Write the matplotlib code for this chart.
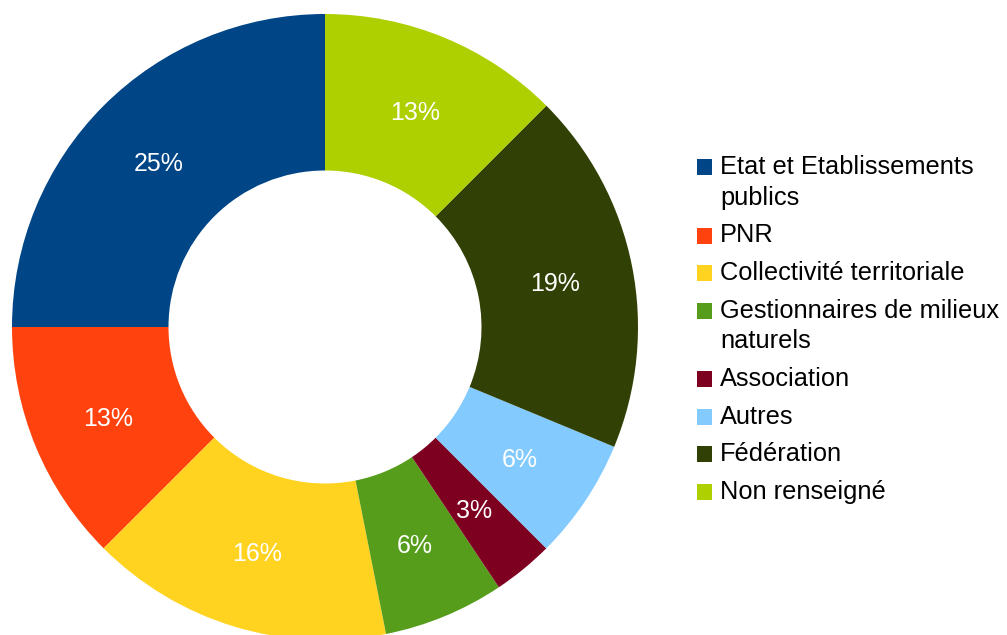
import matplotlib.pyplot as plt
from matplotlib.patches import Rectangle

# --- Données ---
categories = ['Etat et Etablissements\npublics', 'PNR', 'Collectivité territoriale',
              'Gestionnaires de milieux\nnaturels', 'Association', 'Autres',
              'Fédération', 'Non renseigné']
effectifs = [8, 4, 5, 2, 1, 2, 6, 4]
couleurs = ['#004586', '#ff420e', '#ffd320', '#579d1c',
            '#7e0021', '#83caff', '#314004', '#aecf00']

plt.rcParams['font.family'] = ['Liberation Sans', 'DejaVu Sans']

W, H = 1007, 635
fig = plt.figure(figsize=(W / 100, H / 100), dpi=100)

# anneau : centre (325, 327) px, rayon 313 px
cx, cy, r = 325, 327, 313
ax = fig.add_axes([(cx - r) / W, (H - cy - r) / H, 2 * r / W, 2 * r / H])

total = sum(effectifs)


def etiquette(p):
    # arrondi "à la tableur" (0.5 vers le haut)
    return f"{int(p + 0.5)}%"


wedges, _, autotexts = ax.pie(
    effectifs, colors=couleurs, startangle=90, counterclock=True,
    autopct=etiquette, pctdistance=0.75,
    wedgeprops=dict(width=0.5, linewidth=0),
    textprops=dict(color='white', fontsize=18),
)
for t in autotexts:
    t.set_va('center_baseline')
ax.set_xlim(-1, 1)
ax.set_ylim(-1, 1)
ax.set_aspect('equal')
ax.axis('off')

# --- Légende ---
y = 174
for nom, c in zip(categories, couleurs):
    fig.patches.append(Rectangle((697 / W, (H - y - 1) / H), 15 / W, 16 / H,
                                 transform=fig.transFigure, facecolor=c,
                                 edgecolor='none'))
    lignes = nom.split('\n')
    for i, ligne in enumerate(lignes):
        fig.text(720 / W, (H - y) / H, ligne, fontsize=18.3, color='black',
                 va='baseline', ha='left')
        if i < len(lignes) - 1:
            y += 31
    y += 37.5

fig.savefig('out.png', dpi=100)
